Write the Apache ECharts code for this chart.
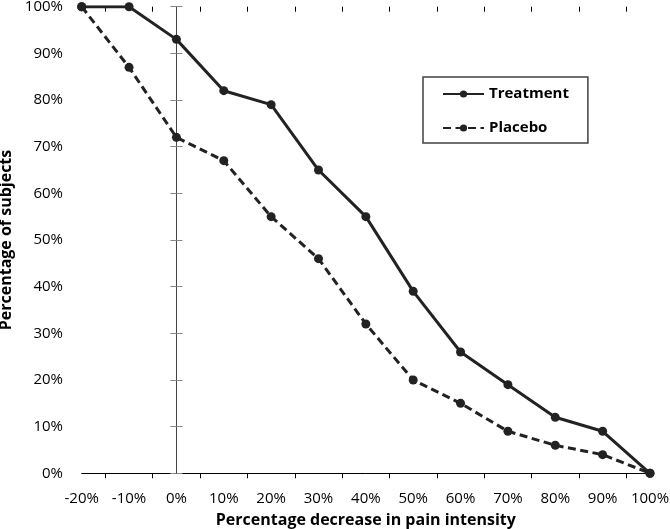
<!DOCTYPE html>
<html>
<head>
<meta charset="utf-8">
<script src="https://cdn.jsdelivr.net/npm/echarts@6/dist/echarts.min.js"></script>
<style>
  html, body { margin: 0; padding: 0; background: #fff; }
  #chart { width: 670px; height: 529px; }
</style>
</head>
<body>
<div id="chart"></div>
<script>
// Data
const xValues = [-20, -10, 0, 10, 20, 30, 40, 50, 60, 70, 80, 90, 100];
const treatment = [100, 100, 93, 82, 79, 65, 55, 39, 26, 19, 12, 9, 0];
const placebo = [100, 87, 72, 67, 55, 46, 32, 20, 15, 9, 6, 4, 0];
const xLabelValues = [-20, -10, 0, 10, 20, 30, 40, 50, 60, 70, 80, 90, 100];
const xTickValues = [-15, -5, 5, 15, 25, 35, 45, 55, 65, 75, 85, 95];
const yTickValues = [0, 10, 20, 30, 40, 50, 60, 70, 80, 90, 100];
const seriesNames = ['Treatment', 'Placebo'];
const xTitle = 'Percentage decrease in pain intensity';
const yTitle = 'Percentage of subjects';

const FONT = '"Open Sans", sans-serif';
const INK = '#222222';

const chart = echarts.init(document.getElementById('chart'), null, { renderer: 'canvas' });

const baseX = {
  type: 'value', min: -20, max: 100, interval: 10,
  splitLine: { show: false }
};
const baseY = {
  type: 'value', min: 0, max: 100, interval: 10,
  splitLine: { show: false }
};

const option = {
  backgroundColor: '#ffffff',
  animation: false,
  grid: { left: 81.7, right: 20, top: 6.7, bottom: 55.7, containLabel: false, outerBoundsMode: 'none' },
  legend: {
    orient: 'vertical',
    left: 423, top: 77,
    padding: [7, 19, 5, 19],
    itemWidth: 41, itemHeight: 9,
    itemGap: 14,
    backgroundColor: '#ffffff',
    borderColor: '#404040', borderWidth: 1.5, borderRadius: 0,
    data: seriesNames,
    textStyle: { fontFamily: FONT, fontWeight: 'bold', fontSize: 15, color: '#000', lineHeight: 20 }
  },
  xAxis: [
    Object.assign({}, baseX, {
      name: xTitle, nameLocation: 'middle', nameGap: 35,
      nameTextStyle: { fontFamily: FONT, fontWeight: 'bold', fontSize: 16, color: '#000' },
      axisLine: { show: true, onZero: false, lineStyle: { color: '#000', width: 1 } },
      axisTick: { show: true, inside: false, length: 5, customValues: xTickValues, lineStyle: { color: '#000', width: 1 } },
      axisLabel: {
        show: true, margin: 16, customValues: xLabelValues,
        formatter: v => v + '%',
        fontFamily: FONT, fontSize: 15, color: '#000', lineHeight: 18
      }
    }),
    Object.assign({}, baseX, {
      axisLine: { show: false, onZero: false },
      axisTick: { show: true, inside: true, length: 5, customValues: xTickValues, lineStyle: { color: '#000', width: 1 } },
      axisLabel: { show: false }
    })
  ],
  yAxis: [
    Object.assign({}, baseY, {
      name: yTitle, nameLocation: 'middle', nameGap: 57,
      nameTextStyle: { fontFamily: FONT, fontWeight: 'bold', fontSize: 16, color: '#000' },
      axisLine: { show: false, onZero: false },
      axisTick: { show: false },
      axisLabel: {
        show: true, margin: 18.7, customValues: yTickValues,
        formatter: v => v + '%',
        fontFamily: FONT, fontSize: 15, color: '#000'
      }
    }),
    Object.assign({}, baseY, {
      axisLine: { show: true, onZero: true, onZeroAxisIndex: 0, lineStyle: { color: '#444', width: 1 } },
      axisTick: { show: true, inside: false, length: 6, customValues: yTickValues, lineStyle: { color: '#888', width: 1 } },
      axisLabel: { show: false }
    }),
    Object.assign({}, baseY, {
      axisLine: { show: false, onZero: true, onZeroAxisIndex: 0 },
      axisTick: { show: true, inside: true, length: 6, customValues: yTickValues, lineStyle: { color: '#888', width: 1 } },
      axisLabel: { show: false }
    })
  ],
  series: [
    {
      name: seriesNames[0], type: 'line',
      data: xValues.map((x, i) => [x, treatment[i]]),
      symbol: 'circle', symbolSize: 9,
      itemStyle: { color: INK },
      lineStyle: { color: INK, width: 3, type: 'solid' },
      z: 3
    },
    {
      name: seriesNames[1], type: 'line',
      data: xValues.map((x, i) => [x, placebo[i]]),
      symbol: 'circle', symbolSize: 9,
      itemStyle: { color: INK },
      lineStyle: { color: INK, width: 3, type: [8, 4.5] },
      z: 2
    }
  ]
};

chart.setOption(option);
</script>
</body>
</html>
